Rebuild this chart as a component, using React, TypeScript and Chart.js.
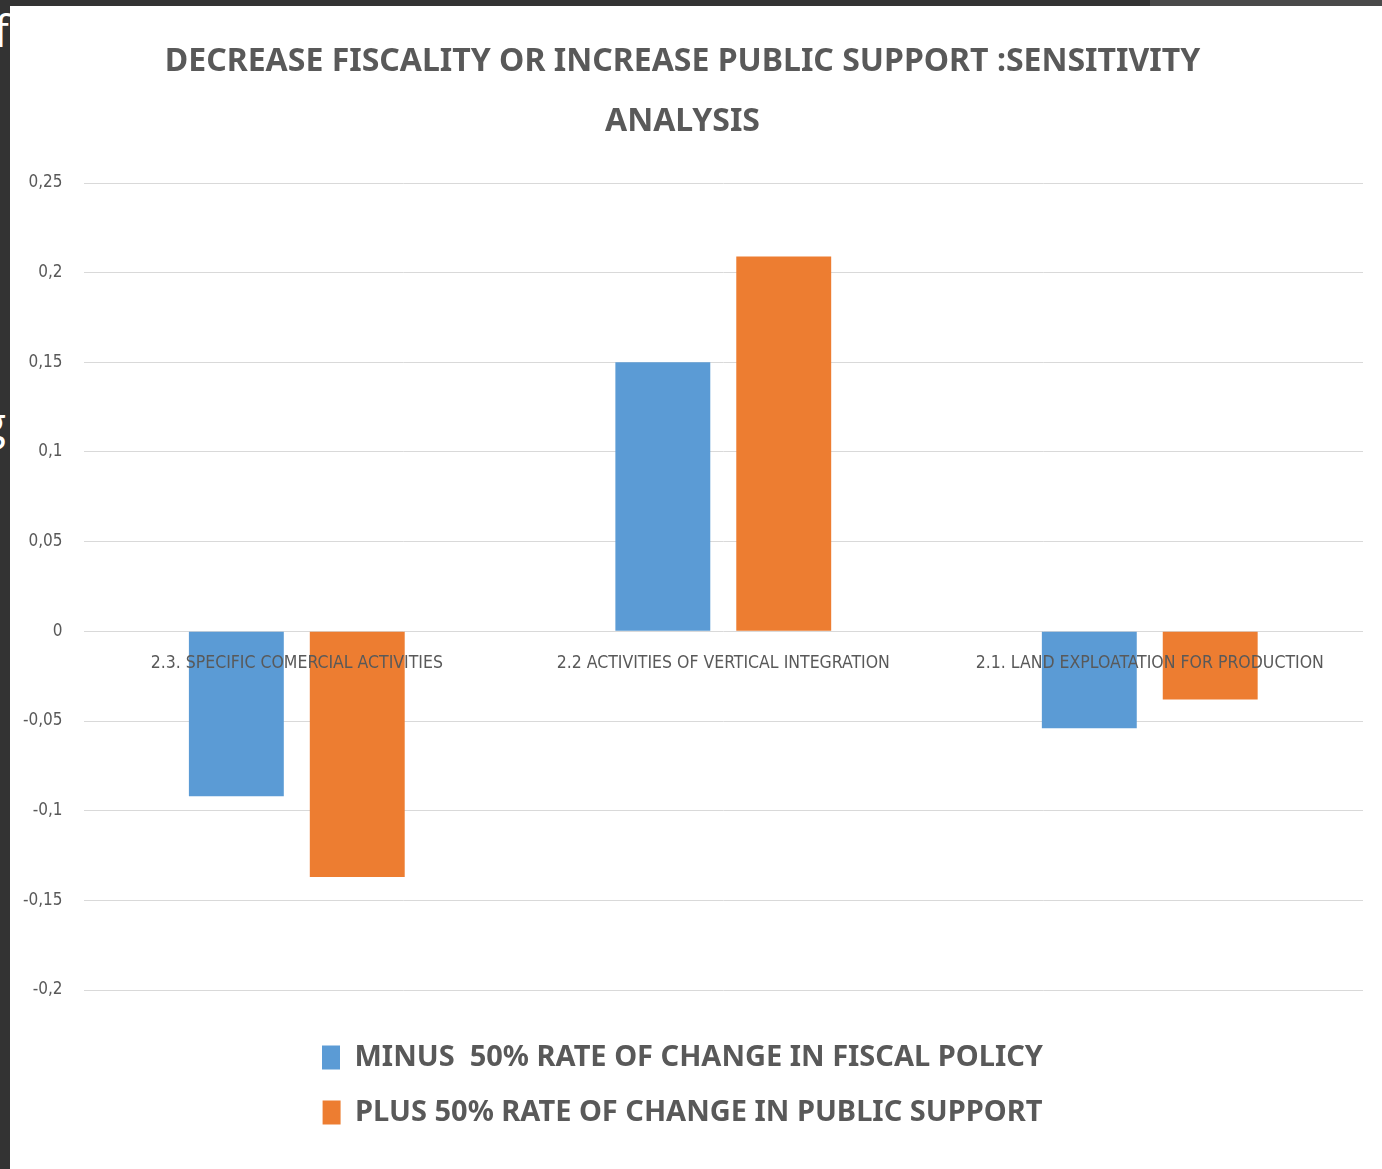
import React, { useEffect, useRef } from "react";
import { Chart, registerables } from "chart.js";

Chart.register(...registerables);

const titleLines = ["DECREASE FISCALITY OR INCREASE PUBLIC SUPPORT :SENSITIVITY", "ANALYSIS"];
const categories = [
  "2.3. SPECIFIC COMERCIAL ACTIVITIES",
  "2.2 ACTIVITIES OF VERTICAL INTEGRATION",
  "2.1. LAND EXPLOATATION FOR PRODUCTION",
];
const seriesNames = [
  "MINUS  50% RATE OF CHANGE IN FISCAL POLICY",
  "PLUS 50% RATE OF CHANGE IN PUBLIC SUPPORT",
];
const fiscalValues = [-0.092, 0.15, -0.054];
const supportValues = [-0.137, 0.209, -0.038];
const yMin = -0.2;
const yMax = 0.25;
const yStep = 0.05;

const FONT = "'DejaVu Sans Condensed', sans-serif";
const BOLD_FONT = "'Noto Sans', 'DejaVu Sans Condensed', sans-serif";
const TEXT = "#595959";

export default function App() {
  const canvasRef = useRef<HTMLCanvasElement | null>(null);

  useEffect(() => {
    document.body.style.margin = "0";
    const canvas = canvasRef.current;
    if (!canvas) return;
    const chart = new Chart(canvas, {
      type: "bar",
      data: {
        labels: categories,
        datasets: [
          {
            label: seriesNames[0],
            data: fiscalValues,
            backgroundColor: "#5B9BD5",
            borderWidth: 0,
            barPercentage: 0.785,
            categoryPercentage: 0.567,
          },
          {
            label: seriesNames[1],
            data: supportValues,
            backgroundColor: "#ED7D31",
            borderWidth: 0,
            barPercentage: 0.785,
            categoryPercentage: 0.567,
          },
        ],
      },
      options: {
        animation: false,
        responsive: false,
        maintainAspectRatio: false,
        layout: { padding: { left: -8, right: 19, top: 0, bottom: 32 } },
        plugins: {
          tooltip: { enabled: false },
          title: {
            display: true,
            text: titleLines,
            color: TEXT,
            font: { family: BOLD_FONT, size: 32, weight: "bold", lineHeight: 1.875 },
            padding: { top: 26, bottom: 31 },
          },
          legend: {
            display: true,
            position: "bottom",
            title: {
              display: true,
              text: "",
              font: { size: 10, lineHeight: 1 },
              padding: { top: 17, bottom: 0 },
            },
            labels: {
              color: TEXT,
              font: { family: BOLD_FONT, size: 29, weight: "bold" },
              boxWidth: 18,
              boxHeight: 24,
              padding: 26,
            },
          },
        },
        scales: {
          x: {
            type: "category",
            position: { y: 0 },
            grid: { display: false, drawTicks: false },
            border: { display: false },
            ticks: {
              z: 1,
              color: TEXT,
              font: { family: FONT, size: 17.5 },
              padding: 22,
              autoSkip: false,
              maxRotation: 0,
              minRotation: 0,
            },
          },
          y: {
            min: yMin,
            max: yMax,
            grid: { color: "#D9D9D9", lineWidth: 1, drawTicks: false },
            border: { display: false },
            ticks: {
              stepSize: yStep,
              color: TEXT,
              font: { family: FONT, size: 17 },
              padding: 21,
              callback: (v: any) => String(Math.round(Number(v) * 100) / 100).replace(".", ","),
            },
          },
        },
      },
    });
    return () => chart.destroy();
  }, []);

  const stray: React.CSSProperties = {
    position: "absolute",
    color: "#ffffff",
    fontFamily: "'Open Sans', sans-serif",
    fontSize: 44,
    lineHeight: 1,
  };

  return (
    <div style={{ position: "relative", width: 1382, height: 1169, background: "#333333", overflow: "hidden" }}>
      <div style={{ position: "absolute", left: 1150, top: 0, width: 232, height: 6, background: "#4a4a4a" }} />
      <div style={{ position: "absolute", left: 0, top: 0, width: 10, height: 1169, overflow: "hidden" }}>
        <span style={{ ...stray, left: -6, top: 8 }}>f</span>
        <span style={{ ...stray, left: -18, top: 400 }}>g</span>
        <span style={{ ...stray, left: -20, top: 775 }}>s</span>
      </div>
      <div style={{ position: "absolute", left: 10, top: 6, width: 1372, height: 1163, background: "#ffffff" }}>
        <canvas ref={canvasRef} width={1372} height={1163} style={{ display: "block", width: 1372, height: 1163 }} />
      </div>
    </div>
  );
}
